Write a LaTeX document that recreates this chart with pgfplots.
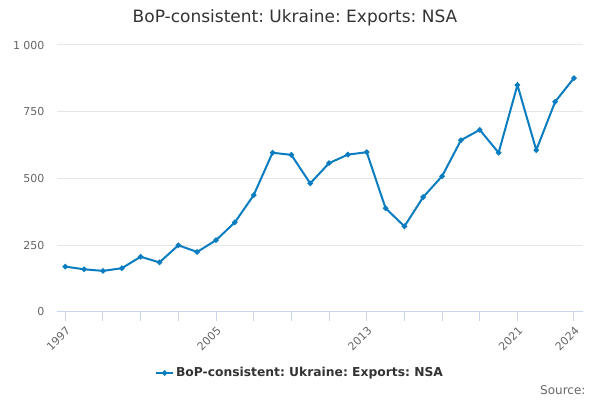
\documentclass[border=0pt]{standalone}
\usepackage{pgfplots}
\pgfplotsset{compat=1.18}
\usepackage{fontspec}
\setmainfont{DejaVu Sans}
\definecolor{serie}{HTML}{0A7CC0}
\definecolor{gridc}{HTML}{E6E6E6}
\definecolor{axisc}{HTML}{CCD6EB}
\definecolor{lab}{HTML}{666666}
\definecolor{ttl}{HTML}{333333}
\begin{document}
\frenchspacing
\begin{tikzpicture}
\path[use as bounding box] (0,0) rectangle (600bp,400bp);
\node[font=\fontsize{17bp}{20bp}\selectfont, text=ttl] at (295bp,382bp) {BoP-consistent: Ukraine: Exports: NSA};
\node[anchor=base east, font=\fontsize{12bp}{14bp}\selectfont, text=lab] at (589bp,6bp) {Source:};
\begin{axis}[
  at={(57bp,88.3bp)}, anchor=south west,
  scale only axis, width=526bp, height=266.7bp,
  xmin=1996.56, xmax=2024.48, ymin=0, ymax=1000,
  axis x line*=bottom, axis y line*=left,
  x axis line style={draw=axisc, line width=1bp, -},
  y axis line style={draw=none, -},
  xtick={1997,2005,2013,2021,2024},
  xticklabels={1997,2005,2013,2021,2024},
  minor xtick={1999,2001,2003,2007,2009,2011,2015,2017,2019},
  xticklabel style={rotate=45, anchor=north east, font=\fontsize{11bp}{13bp}\selectfont, text=lab},
  x tick style={draw=axisc, line width=1bp},
  tick align=outside, major tick length=9bp, minor tick length=9bp,
  ytick={0,250,500,750,1000}, yticklabels={0,250,500,750,1 000},
  yticklabel style={font=\fontsize{11bp}{13bp}\selectfont, text=lab},
  y tick style={draw=none},
  ymajorgrids, grid style={draw=gridc, line width=1bp},
  /pgf/number format/assume math mode=true,
  legend style={at={(0.462,-0.23)}, anchor=center, draw=none, fill=none,
    font=\bfseries\fontsize{12.3bp}{14bp}\selectfont, text=ttl},
  legend cell align=left,
]
\addplot[serie, line width=2bp, mark=*, mark size=1.6bp, mark options={solid, fill=serie}] coordinates {
(1997,169) (1998,159) (1999,153) (2000,163) (2001,206) (2002,185) (2003,249)
(2004,224) (2005,268) (2006,335) (2007,437) (2008,596) (2009,588) (2010,481)
(2011,557) (2012,589) (2013,598) (2014,388) (2015,320) (2016,430) (2017,508)
(2018,643) (2019,682) (2020,596) (2021,850) (2022,606) (2023,787) (2024,876)
};
\addlegendentry{BoP-consistent: Ukraine: Exports: NSA}
\end{axis}
\end{tikzpicture}
\end{document}
